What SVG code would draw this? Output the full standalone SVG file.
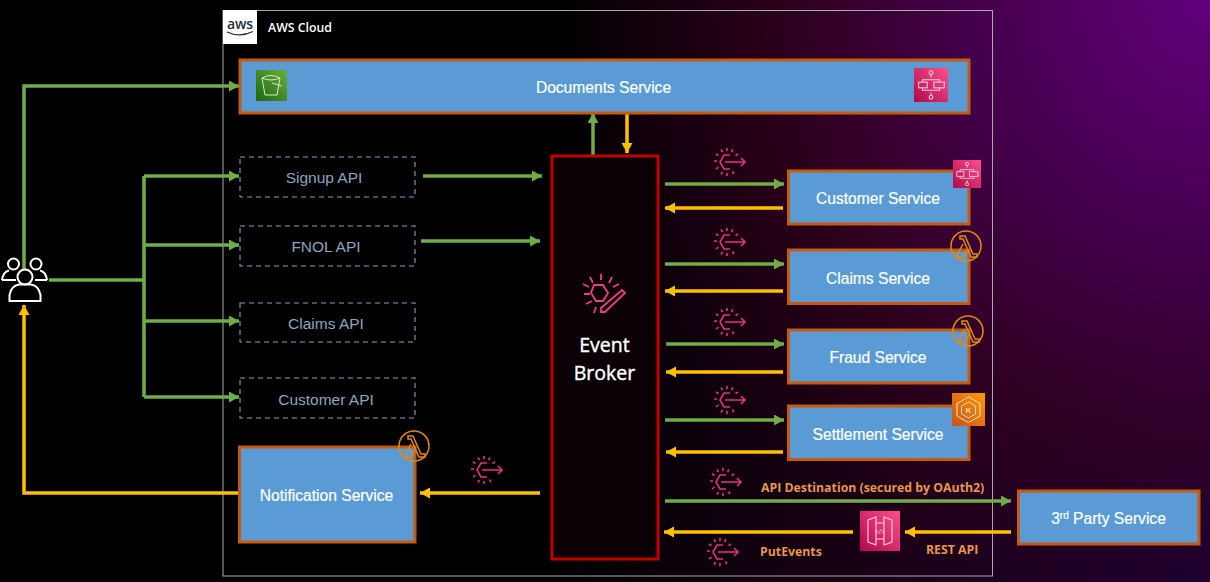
<svg xmlns="http://www.w3.org/2000/svg" width="1210" height="582" viewBox="0 0 1210 582">
<style>
.svc{fill:#5b9bd5;stroke:#c55a11;stroke-width:3}
.api{fill:none;stroke:#86a0c2;stroke-width:1.100;stroke-dasharray:5 4}
.t{font-family:"Liberation Sans",Arial,sans-serif;font-size:15.600px;fill:#fff;text-anchor:middle;stroke:#fff;stroke-width:.2}
.apit{font-family:"Liberation Sans",Arial,sans-serif;font-size:15.500px;fill:#8ea4c0;text-anchor:middle}
.lab{font-family:"Open Sans",sans-serif;font-size:12.300px;font-weight:700;fill:#e8964e}
.g{fill:none;stroke:#70ad47;stroke-width:3.500}
.y{fill:none;stroke:#ffc000;stroke-width:3.500}
.ev{fill:none;stroke:#e7317c;stroke-width:1.600}
.wl{fill:none;stroke:#f6d5e2;stroke-width:1.100}
.lm{fill:none;stroke:#e08a10;stroke-width:1.500}
</style>
<defs>
<linearGradient id="bgA" x1="0" y1="0" x2="1" y2="0"><stop offset="0" stop-color="#000"/><stop offset=".45" stop-color="#000"/><stop offset=".75" stop-color="#1c0018"/><stop offset="1" stop-color="#1a0034"/></linearGradient>
<radialGradient id="bgB" gradientUnits="userSpaceOnUse" cx="1210" cy="0" r="640"><stop offset="0" stop-color="#62007c"/><stop offset=".4" stop-color="#4a0050" stop-opacity=".85"/><stop offset=".7" stop-color="#3a0020" stop-opacity=".6"/><stop offset="1" stop-color="#300018" stop-opacity="0"/></radialGradient>
<linearGradient id="pink" x1="0" y1="1" x2="1" y2="0"><stop offset="0" stop-color="#b0084d"/><stop offset="1" stop-color="#ff4f8b"/></linearGradient>
<linearGradient id="green" x1="0" y1="1" x2="1" y2="0"><stop offset="0" stop-color="#1b660f"/><stop offset="1" stop-color="#6cae3e"/></linearGradient>
<linearGradient id="orange" x1="0" y1="1" x2="1" y2="0"><stop offset="0" stop-color="#c8511b"/><stop offset="1" stop-color="#ff9900"/></linearGradient>
<marker id="ag" markerUnits="userSpaceOnUse" markerWidth="12" markerHeight="12" refX="10" refY="5.500" orient="auto"><path d="M0 0L10 5.500L0 11Z" fill="#70ad47"/></marker>
<marker id="ay" markerUnits="userSpaceOnUse" markerWidth="12" markerHeight="12" refX="10" refY="5.500" orient="auto"><path d="M0 0L10 5.500L0 11Z" fill="#ffc000"/></marker>
<g id="evt" class="ev">
<path d="M3-7H-3L-7 0L-3 7H3M-2 0H18M14-4L18 0L14 4"/>
<path d="M0-14V-11M6-12.500L4.500-10M11-8L8.500-6.500M-6-12.500L-4.500-10M-11-8L-8.500-6.500M-13-1H-10M-11 7L-8.500 5M-6 12.500L-4.500 10M0 14V11M7 12L5.500 9.500"/>
</g>
<g id="sf"><path class="wl" d="M0-11.500V-8M0 8V11.500M-9-3V-5.500H9V-3M-9 3V5.500H9V3"/><circle class="wl" cx="0" cy="-13" r="2"/><circle class="wl" cx="0" cy="13" r="2"/><rect class="wl" x="-13" y="-3" width="9" height="6"/><rect class="wl" x="3" y="-3" width="11" height="6"/></g>
<g id="lam" class="lm"><circle r="15"/><path d="M-6-10H-1L7 8H11V11H5L-3-7H-6ZM-3-2L-10 11H-3L1 4"/></g>
</defs>
<rect id="background" width="1210" height="582" fill="url(#bgA)"/>
<rect width="1210" height="582" fill="url(#bgB)"/>

<g id="aws-cloud">
<rect x="223" y="10.500" width="769.500" height="565.500" fill="none" stroke="#aaa" stroke-width="1"/>
<rect x="223" y="10" width="34" height="34" fill="#fff"/>
<text x="227" y="29" font-family="'Open Sans',sans-serif" font-size="14" font-weight="600" fill="#232f3e" textLength="26">aws</text>
<path d="M227 32Q240 38 253 31.500" fill="none" stroke="#232f3e" stroke-width="1.300"/>
<text x="268" y="32" font-family="'Open Sans',sans-serif" font-size="12.300" font-weight="600" fill="#fff">AWS Cloud</text>
</g>

<g id="connectors">
<path class="g" d="M24 270V86H239" marker-end="url(#ag)"/>
<path class="g" d="M49 280H144M144 176V397"/>
<path class="g" d="M144 176H239" marker-end="url(#ag)"/>
<path class="g" d="M144 245H239" marker-end="url(#ag)"/>
<path class="g" d="M144 321H239" marker-end="url(#ag)"/>
<path class="g" d="M144 397H239" marker-end="url(#ag)"/>
<path class="g" d="M423 176H542" marker-end="url(#ag)"/>
<path class="g" d="M421 241H540" marker-end="url(#ag)"/>
<path class="g" d="M593 155V113" marker-end="url(#ag)"/>
<path class="y" d="M627 112V153" marker-end="url(#ay)"/>
<path class="g" d="M665 184H784" marker-end="url(#ag)"/>
<path class="y" d="M783 208H665" marker-end="url(#ay)"/>
<path class="g" d="M665 264H784" marker-end="url(#ag)"/>
<path class="y" d="M783 291H665" marker-end="url(#ay)"/>
<path class="g" d="M666 344H784" marker-end="url(#ag)"/>
<path class="y" d="M783 372H666" marker-end="url(#ay)"/>
<path class="g" d="M665 420H784" marker-end="url(#ag)"/>
<path class="y" d="M783 452H666" marker-end="url(#ay)"/>
<path class="g" d="M665 501H1011" marker-end="url(#ag)"/>
<path class="y" d="M1011 532H905" marker-end="url(#ay)"/>
<path class="y" d="M853 532H664" marker-end="url(#ay)"/>
<path class="y" d="M540 493H420" marker-end="url(#ay)"/>
<path class="y" d="M239 493H24V305" marker-end="url(#ay)"/>
</g>

<g id="users" fill="none" stroke="#fff" stroke-width="2">
<circle cx="13.500" cy="264" r="5.500"/><circle cx="36" cy="264" r="5.500"/>
<path d="M2 280Q3 272 9 270.500M47 280Q46 272 40 270.500M2 280H16M47 280H35"/>
<circle cx="25" cy="277" r="7.500"/>
<path d="M9.500 301V295Q11 286 19 284.500H31Q39 286 40.500 295V301Z"/>
</g>

<g id="documents-service">
<rect class="svc" x="240" y="60" width="729" height="53"/>
<text class="t" x="603.500" y="93">Documents Service</text>
<rect x="256" y="70" width="31" height="31" fill="url(#green)"/>
<path d="M262 78L265 95H277L280 78M262 78Q271 73 280 78Q271 82 262 78M272 83L282 86" fill="none" stroke="#d6ecc7" stroke-width="1"/>
<rect x="914" y="68" width="34" height="34" fill="url(#pink)"/>
<use href="#sf" transform="translate(931 85) scale(.95)"/>
</g>

<g id="signup-api"><rect class="api" x="240" y="157" width="175" height="40"/><text class="apit" x="324" y="183">Signup API</text></g>
<g id="fnol-api"><rect class="api" x="240" y="226" width="175" height="40"/><text class="apit" x="326" y="252">FNOL API</text></g>
<g id="claims-api"><rect class="api" x="240" y="303" width="175" height="39"/><text class="apit" x="326" y="329">Claims API</text></g>
<g id="customer-api"><rect class="api" x="240" y="378" width="175" height="40"/><text class="apit" x="326" y="405">Customer API</text></g>

<g id="notification-service">
<rect class="svc" x="239.500" y="447" width="175.500" height="95"/>
<text class="t" x="326.500" y="501">Notification Service</text>
<use href="#lam" x="414" y="446"/>
</g>

<g id="event-broker">
<rect x="552" y="156" width="106" height="403" fill="#0a0005" stroke="#c00000" stroke-width="3"/>
<g fill="none" stroke="#ef3f80" stroke-width="1.800">
<path d="M594 285H603L608 293L603 301H596L591 293Z"/>
<path d="M601 308L622 290L625 293L605 312L601 312Z"/>
<path d="M601 274V280M590 277L593 283M612 277L609 283M583 284L589 287M619 284L613 287M584 294H590M586 304L592 301M596 307L594 313"/>
</g>
<text x="604.500" y="352" font-family="'Open Sans',sans-serif" font-size="19.500" fill="#fff" stroke="#fff" stroke-width=".4" text-anchor="middle">Event</text>
<text x="604.500" y="380" font-family="'Open Sans',sans-serif" font-size="19.500" fill="#fff" stroke="#fff" stroke-width=".4" text-anchor="middle">Broker</text>
</g>

<g id="customer-service">
<rect class="svc" x="788.500" y="171" width="180.500" height="53"/>
<text class="t" x="878" y="204">Customer Service</text>
<rect x="953" y="160" width="28" height="28" fill="url(#pink)"/>
<use href="#sf" transform="translate(967 174) scale(.78)"/>
</g>
<g id="claims-service">
<rect class="svc" x="788.500" y="250" width="180.500" height="53.500"/>
<text class="t" x="878" y="284">Claims Service</text>
<use href="#lam" x="966" y="246"/>
</g>
<g id="fraud-service">
<rect class="svc" x="788.500" y="330" width="180.500" height="53"/>
<text class="t" x="878" y="363">Fraud Service</text>
<use href="#lam" x="968" y="331"/>
</g>
<g id="settlement-service">
<rect class="svc" x="788.500" y="406" width="180.500" height="53.500"/>
<text class="t" x="878" y="440">Settlement Service</text>
<rect x="952" y="393" width="33" height="33" fill="url(#orange)"/>
<g fill="none" stroke="#fbe0c4" stroke-width="1">
<path d="M968.500 397L980 403.500V416L968.500 422.500L957 416V403.500Z"/>
<path d="M968.500 402L975.500 406V414L968.500 418L961.500 414V406Z"/>
</g>
<text x="968.500" y="413" font-family="'Liberation Sans',sans-serif" font-size="8" font-weight="700" fill="#fbe0c4" text-anchor="middle">K</text>
</g>
<g id="third-party-service">
<rect class="svc" x="1018.500" y="491" width="180.500" height="53"/>
<text class="t" x="1108.500" y="524">3<tspan font-size="10" dy="-5">rd</tspan><tspan dy="5"> Party Service</tspan></text>
</g>
<g id="api-gateway">
<rect x="860" y="511" width="40" height="40" fill="url(#pink)"/>
<path class="wl" d="M868 520L876 517V545L868 542ZM892 520L884 517V545L892 542ZM876 523H884M876 539H884"/>
<text x="880" y="534" font-family="'Liberation Sans',sans-serif" font-size="7" fill="#f6d5e2" text-anchor="middle">&lt;/&gt;</text>
</g>

<g id="event-icons">
<use href="#evt" x="727" y="162"/>
<use href="#evt" x="727" y="242"/>
<use href="#evt" x="727" y="322"/>
<use href="#evt" x="727" y="400"/>
<use href="#evt" x="723" y="482"/>
<use href="#evt" x="720" y="552"/>
<use href="#evt" x="484" y="470"/>
</g>
<g id="labels">
<text class="lab" x="761" y="492">API Destination (secured by OAuth2)</text>
<text class="lab" x="760" y="556">PutEvents</text>
<text class="lab" x="926" y="554">REST API</text>
</g>
</svg>
